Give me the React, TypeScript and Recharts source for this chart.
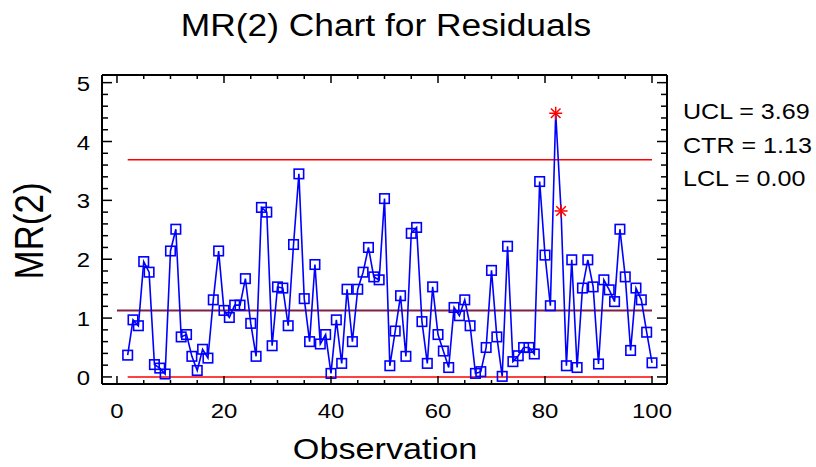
import React from "react";
import { ComposedChart, Line, XAxis, YAxis, ReferenceLine } from "recharts";

// moving ranges MR(2), first one at observation 2
const firstObservation = 2;
const mrValues = [
  0.37, 0.97, 0.87, 1.96, 1.78, 0.21, 0.15, 0.05, 2.14, 2.51,
  0.68, 0.72, 0.35, 0.11, 0.47, 0.32, 1.31, 2.14, 1.13, 1.01,
  1.22, 1.22, 1.67, 0.91, 0.35, 2.88, 2.8, 0.53, 1.53, 1.51,
  0.87, 2.25, 3.45, 1.33, 0.6, 1.91, 0.56, 0.72, 0.06, 0.97,
  0.23, 1.49, 0.6, 1.49, 1.78, 2.2, 1.7, 1.65, 3.03, 0.19,
  0.78, 1.38, 0.35, 2.44, 2.54, 0.94, 0.23, 1.53, 0.72, 0.44,
  0.16, 1.18, 1.04, 1.31, 0.87, 0.06, 0.09, 0.5, 1.81, 0.68,
  0.01, 2.22, 0.26, 0.36, 0.5, 0.5, 0.39, 3.32, 2.07, 1.21,
  4.48, 2.82, 0.19, 1.99, 0.16, 1.51, 1.99, 1.53, 0.22, 1.65,
  1.48, 1.28, 2.51, 1.7, 0.45, 1.51, 1.31, 0.76, 0.24,
];
const flaggedObservations = [82, 83];

const UCL = 3.69;
const CTR = 1.13;
const LCL = 0.0;
const limitRange = [2, 100];
const centerRange = [0, 100];

const xTicks = [0, 5, 10, 15, 20, 25, 30, 35, 40, 45, 50, 55, 60, 65, 70, 75, 80, 85, 90, 95, 100];
const xMajor = [0, 20, 40, 60, 80, 100];
const yTicks = [
  0, 0.2, 0.4, 0.6, 0.8, 1, 1.2, 1.4, 1.6, 1.8, 2, 2.2, 2.4, 2.6, 2.8, 3,
  3.2, 3.4, 3.6, 3.8, 4, 4.2, 4.4, 4.6, 4.8, 5,
];
const yMajor = [0, 1, 2, 3, 4, 5];

const data = mrValues.map((mr, i) => ({ obs: firstObservation + i, mr }));

const FONT = "'Liberation Sans', Arial, sans-serif";
const SX = 1.14; // text in the reference is slightly wide
const X_DOMAIN: [number, number] = [-2.8, 102.8];
const Y_DOMAIN: [number, number] = [-0.12, 5.13];

const isMajorX = (v: number) => xMajor.includes(v);
const isMajorY = (v: number) => yMajor.some((m) => Math.abs(m - v) < 1e-6);

const BottomTick = (props: any) => {
  const { x, y, payload } = props;
  const major = isMajorX(payload.value);
  return (
    <g>
      <line x1={x} x2={x} y1={y} y2={y - (major ? 8 : 4)} stroke="#000" strokeWidth={1.5} />
      {major && (
        <text
          transform={`translate(${x},${y + 34}) scale(${SX},1)`}
          textAnchor="middle"
          fontFamily={FONT}
          fontSize={21}
          fill="#000"
        >
          {payload.value}
        </text>
      )}
    </g>
  );
};

const TopTick = (props: any) => {
  const { x, y, payload } = props;
  const major = isMajorX(payload.value);
  return <line x1={x} x2={x} y1={y} y2={y + (major ? 8 : 4)} stroke="#000" strokeWidth={1.5} />;
};

const LeftTick = (props: any) => {
  const { x, y, payload } = props;
  const major = isMajorY(payload.value);
  return (
    <g>
      <line x1={x} x2={x + (major ? 10 : 6)} y1={y} y2={y} stroke="#000" strokeWidth={1.5} />
      {major && (
        <text
          transform={`translate(${x - 12},${y + 8}) scale(${SX},1)`}
          textAnchor="end"
          fontFamily={FONT}
          fontSize={21}
          fill="#000"
        >
          {payload.value}
        </text>
      )}
    </g>
  );
};

const RightTick = (props: any) => {
  const { x, y, payload } = props;
  const major = isMajorY(payload.value);
  return <line x1={x} x2={x - (major ? 10 : 6)} y1={y} y2={y} stroke="#000" strokeWidth={1.5} />;
};

const Marker = (props: any) => {
  const { cx, cy, payload, index } = props;
  if (cx == null || cy == null) return <g key={`m-${index}`} />;
  if (flaggedObservations.includes(payload.obs)) {
    const r = 6.5;
    const d = 4.8;
    return (
      <g key={`m-${index}`} stroke="#ff0000" strokeWidth={1.5}>
        <line x1={cx - r} x2={cx + r} y1={cy} y2={cy} />
        <line x1={cx} x2={cx} y1={cy - r} y2={cy + r} />
        <line x1={cx - d} x2={cx + d} y1={cy - d} y2={cy + d} />
        <line x1={cx - d} x2={cx + d} y1={cy + d} y2={cy - d} />
      </g>
    );
  }
  return (
    <rect
      key={`m-${index}`}
      x={cx - 4.75}
      y={cy - 4.75}
      width={9.5}
      height={9.5}
      fill="none"
      stroke="#0000ff"
      strokeWidth={1.6}
    />
  );
};

const axisLine = { stroke: "#000", strokeWidth: 2 };

export default function App() {
  return (
    <div style={{ position: "absolute", left: 0, top: 0, width: 816, height: 467, background: "#fff" }}>
      <ComposedChart
        width={816}
        height={467}
        data={data}
        margin={{ top: 74, right: 148, bottom: 82, left: 101 }}
      >
        <XAxis
          xAxisId="bottom"
          dataKey="obs"
          type="number"
          domain={X_DOMAIN}
          allowDataOverflow
          ticks={xTicks}
          interval={0}
          height={1}
          tickSize={0}
          tickMargin={0}
          tickLine={false}
          axisLine={axisLine}
          tick={BottomTick}
        />
        <XAxis
          xAxisId="top"
          dataKey="obs"
          orientation="top"
          type="number"
          domain={X_DOMAIN}
          allowDataOverflow
          ticks={xTicks}
          interval={0}
          height={1}
          tickSize={0}
          tickMargin={0}
          tickLine={false}
          axisLine={axisLine}
          tick={TopTick}
        />
        <YAxis
          yAxisId="left"
          type="number"
          domain={Y_DOMAIN}
          allowDataOverflow
          ticks={yTicks}
          interval={0}
          width={1}
          tickSize={0}
          tickMargin={0}
          tickLine={false}
          axisLine={axisLine}
          tick={LeftTick}
        />
        <YAxis
          yAxisId="right"
          orientation="right"
          type="number"
          domain={Y_DOMAIN}
          allowDataOverflow
          ticks={yTicks}
          interval={0}
          width={1}
          tickSize={0}
          tickMargin={0}
          tickLine={false}
          axisLine={axisLine}
          tick={RightTick}
        />
        <ReferenceLine
          xAxisId="bottom"
          yAxisId="left"
          segment={[{ x: limitRange[0], y: UCL }, { x: limitRange[1], y: UCL }]}
          stroke="#ff0000"
          strokeWidth={1.5}
        />
        <ReferenceLine
          xAxisId="bottom"
          yAxisId="left"
          segment={[{ x: centerRange[0], y: CTR }, { x: centerRange[1], y: CTR }]}
          stroke="#7f1f45"
          strokeWidth={2}
        />
        <ReferenceLine
          xAxisId="bottom"
          yAxisId="left"
          segment={[{ x: limitRange[0], y: LCL }, { x: limitRange[1], y: LCL }]}
          stroke="#ff0000"
          strokeWidth={1.5}
        />
        {/* invisible twin so the mirrored top/right axes get a scale */}
        <Line
          xAxisId="top"
          yAxisId="right"
          type="linear"
          dataKey="mr"
          stroke="none"
          dot={false}
          activeDot={false}
          isAnimationActive={false}
        />
        <Line
          xAxisId="bottom"
          yAxisId="left"
          type="linear"
          dataKey="mr"
          stroke="#0000ff"
          strokeWidth={1.6}
          dot={Marker}
          activeDot={false}
          isAnimationActive={false}
        />
      </ComposedChart>
      <svg
        width={816}
        height={467}
        style={{ position: "absolute", left: 0, top: 0, pointerEvents: "none" }}
        fontFamily={FONT}
        fill="#000"
      >
        <text transform={`translate(386,36) scale(${SX},1)`} textAnchor="middle" fontSize={31}>
          MR(2) Chart for Residuals
        </text>
        <text transform={`translate(385,459) scale(${SX},1)`} textAnchor="middle" fontSize={30}>
          Observation
        </text>
        <text transform={`translate(43,231) scale(${SX},1) rotate(-90)`} textAnchor="middle" fontSize={35}>
          MR(2)
        </text>
        <text transform={`translate(683,119) scale(${SX},1)`} fontSize={22}>
          UCL = {UCL.toFixed(2)}
        </text>
        <text transform={`translate(683,153) scale(${SX},1)`} fontSize={22}>
          CTR = {CTR.toFixed(2)}
        </text>
        <text transform={`translate(683,186) scale(${SX},1)`} fontSize={22}>
          LCL = {LCL.toFixed(2)}
        </text>
      </svg>
    </div>
  );
}
